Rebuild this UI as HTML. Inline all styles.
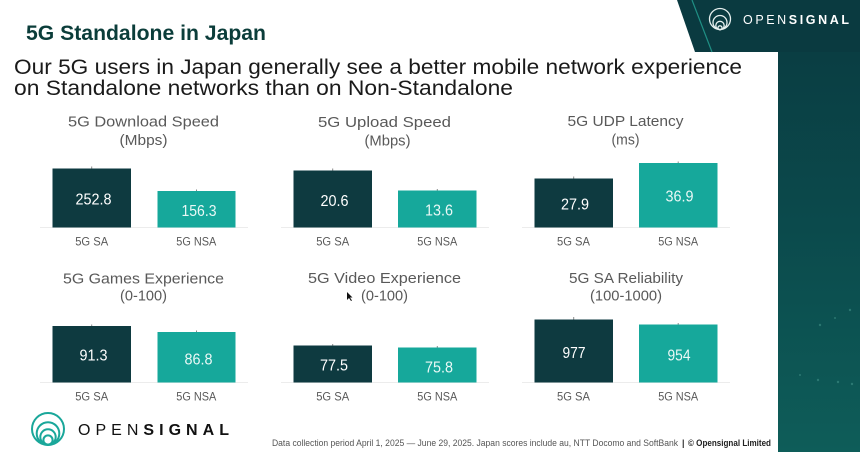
<!DOCTYPE html>
<html><head><meta charset="utf-8"><style>
html,body{margin:0;padding:0;background:#fff;}
svg{display:block;font-family:"Liberation Sans",Arial,sans-serif;}
</style></head><body>
<svg width="860" height="452" viewBox="0 0 860 452" xmlns="http://www.w3.org/2000/svg">
<defs>
<linearGradient id="pg" x1="0" y1="0" x2="0" y2="1">
<stop offset="0" stop-color="#0a3a40"/>
<stop offset="0.5" stop-color="#0b4a4c"/>
<stop offset="1" stop-color="#0e5d59"/>
</linearGradient>
</defs>
<rect width="860" height="452" fill="#fff"/>
<!-- right panel -->
<rect x="778" y="0" width="82" height="452" fill="url(#pg)"/>
<polygon points="677,0 860,0 860,52 695,52" fill="#0a3a40"/>
<line x1="692" y1="0" x2="712" y2="52" stroke="#1f8f84" stroke-width="1.2"/>
<g fill="#3f8f86" opacity="0.6">
<circle cx="820" cy="325" r="1.2"/><circle cx="835" cy="318" r="1"/><circle cx="850" cy="310" r="1.2"/>
<circle cx="800" cy="375" r="1"/><circle cx="818" cy="380" r="1.2"/><circle cx="838" cy="382" r="1.2"/><circle cx="852" cy="384" r="1.2"/>
</g>
<!-- top logo -->
<g fill="none" stroke="#e6f0ef" stroke-width="1.3">
<circle cx="720" cy="19" r="10.5"/>
<circle cx="720" cy="22.5" r="7"/>
<circle cx="720" cy="25.5" r="4.2"/>
<circle cx="720" cy="27.8" r="2"/>
</g>
<text x="743" y="24" font-size="12.5" fill="#ffffff" textLength="106" lengthAdjust="spacing">OPEN<tspan font-weight="bold">SIGNAL</tspan></text>

<!-- titles -->
<text x="26" y="40" font-size="21" font-weight="bold" fill="#0b3d3a" textLength="240" lengthAdjust="spacingAndGlyphs">5G Standalone in Japan</text>
<text x="14" y="74" font-size="21.5" fill="#1a1a1a" textLength="728" lengthAdjust="spacingAndGlyphs">Our 5G users in Japan generally see a better mobile network experience</text>
<text x="14" y="95" font-size="21.5" fill="#1a1a1a" textLength="499" lengthAdjust="spacingAndGlyphs">on Standalone networks than on Non-Standalone</text>

<!-- chart titles -->
<g font-size="15" fill="#595959" text-anchor="middle" lengthAdjust="spacingAndGlyphs">
<text x="143.5" y="126.5" textLength="151" lengthAdjust="spacingAndGlyphs">5G Download Speed</text>
<text x="143.5" y="145" textLength="48" lengthAdjust="spacingAndGlyphs">(Mbps)</text>
<text x="384.5" y="127" textLength="133" lengthAdjust="spacingAndGlyphs">5G Upload Speed</text>
<text x="387.5" y="145.5" textLength="46" lengthAdjust="spacingAndGlyphs">(Mbps)</text>
<text x="625.5" y="126" textLength="116" lengthAdjust="spacingAndGlyphs">5G UDP Latency</text>
<text x="625.5" y="144.5" textLength="28" lengthAdjust="spacingAndGlyphs">(ms)</text>

<text x="143.5" y="283.5" textLength="161" lengthAdjust="spacingAndGlyphs">5G Games Experience</text>
<text x="143.5" y="300.5" textLength="47" lengthAdjust="spacingAndGlyphs">(0-100)</text>
<text x="384.5" y="283" textLength="153" lengthAdjust="spacingAndGlyphs">5G Video Experience</text>
<text x="384.5" y="300.5" textLength="47" lengthAdjust="spacingAndGlyphs">(0-100)</text>
<text x="626" y="283" textLength="114" lengthAdjust="spacingAndGlyphs">5G SA Reliability</text>
<text x="626" y="300.5" textLength="72" lengthAdjust="spacingAndGlyphs">(100-1000)</text>
</g>

<!-- baselines -->
<g stroke="#ececec" stroke-width="1">
<line x1="40" y1="227.5" x2="248" y2="227.5"/>
<line x1="281" y1="227.5" x2="489" y2="227.5"/>
<line x1="522" y1="227.5" x2="730" y2="227.5"/>
<line x1="40" y1="382.5" x2="248" y2="382.5"/>
<line x1="281" y1="382.5" x2="489" y2="382.5"/>
<line x1="522" y1="382.5" x2="730" y2="382.5"/>
</g>

<!-- bars row 1 -->
<rect x="52.5" y="168.5" width="78.5" height="59" fill="#0e3a40"/>
<rect x="157.5" y="191" width="78" height="36.5" fill="#16a89b"/>
<rect x="293.5" y="170.5" width="78.5" height="57" fill="#0e3a40"/>
<rect x="398" y="190.5" width="78.5" height="37" fill="#16a89b"/>
<rect x="534.5" y="178.5" width="78.5" height="49" fill="#0e3a40"/>
<rect x="639" y="163" width="78.5" height="64.5" fill="#16a89b"/>
<!-- bars row 2 -->
<rect x="52.5" y="326" width="78.5" height="56.5" fill="#0e3a40"/>
<rect x="157.5" y="332" width="78" height="50.5" fill="#16a89b"/>
<rect x="293.5" y="345.5" width="78.5" height="37" fill="#0e3a40"/>
<rect x="398" y="347.5" width="78.5" height="35" fill="#16a89b"/>
<rect x="534.5" y="319.5" width="78.5" height="63" fill="#0e3a40"/>
<rect x="639" y="324.5" width="78.5" height="58" fill="#16a89b"/>

<!-- error ticks -->
<g stroke="#8a8a8a" stroke-width="1">
<line x1="91.7" y1="166.5" x2="91.7" y2="168.5"/>
<line x1="196.5" y1="189.5" x2="196.5" y2="191"/>
<line x1="332.7" y1="168.5" x2="332.7" y2="170.5"/>
<line x1="437.3" y1="189" x2="437.3" y2="190.5"/>
<line x1="573.7" y1="176.5" x2="573.7" y2="178.5"/>
<line x1="678.2" y1="161.5" x2="678.2" y2="163"/>
<line x1="91.7" y1="324.5" x2="91.7" y2="326"/>
<line x1="196.5" y1="330.5" x2="196.5" y2="332"/>
<line x1="332.7" y1="344" x2="332.7" y2="345.5"/>
<line x1="437.3" y1="346" x2="437.3" y2="347.5"/>
<line x1="573.7" y1="317" x2="573.7" y2="319.5"/>
<line x1="678.2" y1="323" x2="678.2" y2="324.5"/>
</g>

<!-- value labels -->
<g font-size="16" text-anchor="middle" lengthAdjust="spacingAndGlyphs">
<text x="93.5" y="204.3" fill="#ffffff" textLength="36" lengthAdjust="spacingAndGlyphs">252.8</text>
<text x="199" y="216" fill="#eaf8f6" textLength="35" lengthAdjust="spacingAndGlyphs">156.3</text>
<text x="334.5" y="206" fill="#ffffff" textLength="28" lengthAdjust="spacingAndGlyphs">20.6</text>
<text x="439" y="215.7" fill="#eaf8f6" textLength="28" lengthAdjust="spacingAndGlyphs">13.6</text>
<text x="575" y="209.3" fill="#ffffff" textLength="28" lengthAdjust="spacingAndGlyphs">27.9</text>
<text x="679.5" y="201.7" fill="#eaf8f6" textLength="28" lengthAdjust="spacingAndGlyphs">36.9</text>
<text x="93.5" y="360.7" fill="#ffffff" textLength="28" lengthAdjust="spacingAndGlyphs">91.3</text>
<text x="198.5" y="364.3" fill="#eaf8f6" textLength="28" lengthAdjust="spacingAndGlyphs">86.8</text>
<text x="334" y="370.7" fill="#ffffff" textLength="28" lengthAdjust="spacingAndGlyphs">77.5</text>
<text x="439" y="372.7" fill="#eaf8f6" textLength="28" lengthAdjust="spacingAndGlyphs">75.8</text>
<text x="574" y="358" fill="#ffffff" textLength="23" lengthAdjust="spacingAndGlyphs">977</text>
<text x="679" y="360.7" fill="#eaf8f6" textLength="23" lengthAdjust="spacingAndGlyphs">954</text>
</g>

<!-- x labels -->
<g font-size="11.5" fill="#595959" text-anchor="middle">
<text x="91.7" y="245.5" textLength="33" lengthAdjust="spacingAndGlyphs">5G SA</text>
<text x="196.3" y="245.5" textLength="40" lengthAdjust="spacingAndGlyphs">5G NSA</text>
<text x="332.7" y="245.5" textLength="33" lengthAdjust="spacingAndGlyphs">5G SA</text>
<text x="437.3" y="245.5" textLength="40" lengthAdjust="spacingAndGlyphs">5G NSA</text>
<text x="573.5" y="245.5" textLength="33" lengthAdjust="spacingAndGlyphs">5G SA</text>
<text x="678.2" y="245.5" textLength="40" lengthAdjust="spacingAndGlyphs">5G NSA</text>
<text x="91.7" y="400.7" textLength="33" lengthAdjust="spacingAndGlyphs">5G SA</text>
<text x="196.3" y="400.7" textLength="40" lengthAdjust="spacingAndGlyphs">5G NSA</text>
<text x="332.7" y="400.7" textLength="33" lengthAdjust="spacingAndGlyphs">5G SA</text>
<text x="437.3" y="400.7" textLength="40" lengthAdjust="spacingAndGlyphs">5G NSA</text>
<text x="573.5" y="400.7" textLength="33" lengthAdjust="spacingAndGlyphs">5G SA</text>
<text x="678.2" y="400.7" textLength="40" lengthAdjust="spacingAndGlyphs">5G NSA</text>
</g>

<!-- cursor -->
<polygon points="347,292 347,300 349,298 351,301 352,300.5 350,297.5 352.5,297.5" fill="#111"/>

<!-- bottom logo -->
<g fill="none" stroke="#1aa79a" stroke-width="2">
<circle cx="48" cy="429" r="16"/>
<circle cx="48" cy="433.5" r="11.3"/>
<circle cx="48" cy="437" r="7.7"/>
<circle cx="48" cy="440" r="4.6"/>
</g>
<text x="78" y="435" font-size="16" fill="#111" textLength="151" lengthAdjust="spacing">OPEN<tspan font-weight="bold">SIGNAL</tspan></text>

<!-- footer -->
<text x="272" y="446" font-size="9" fill="#555" textLength="406" lengthAdjust="spacingAndGlyphs">Data collection period April 1, 2025 — June 29, 2025. Japan scores include au, NTT Docomo and SoftBank</text>
<text x="682" y="446" font-size="9" fill="#333" font-weight="bold">|</text>
<text x="688" y="446" font-size="9" fill="#222" font-weight="bold" textLength="83" lengthAdjust="spacingAndGlyphs">© Opensignal Limited</text>
</svg>
</body></html>
